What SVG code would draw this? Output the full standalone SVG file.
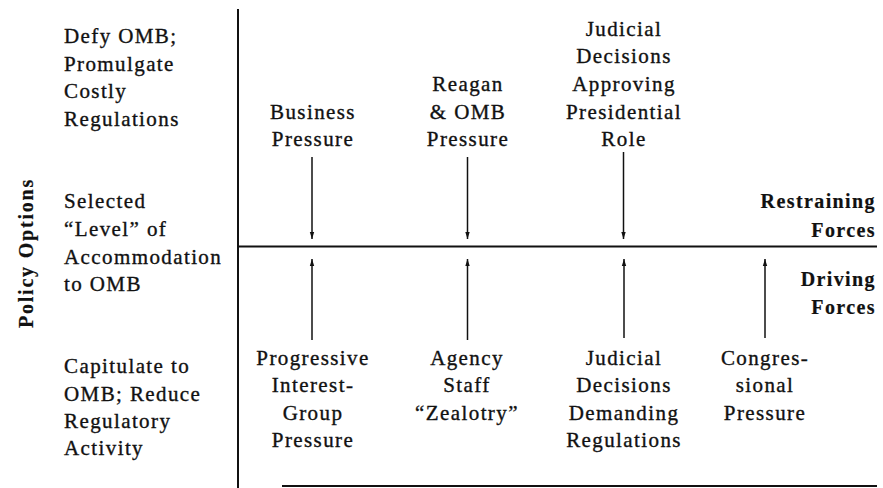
<svg xmlns="http://www.w3.org/2000/svg" width="883" height="488" viewBox="0 0 883 488">
<defs>
<marker id="ah" markerWidth="8" markerHeight="8" refX="7" refY="4" orient="auto" markerUnits="userSpaceOnUse">
<path d="M0,1.8 L7,4 L0,6.2 Z" fill="#111"/>
</marker>
<style>
text{font-family:"Liberation Serif","Times New Roman",serif;font-size:21px;fill:#111;stroke:#111;stroke-width:0.35px;letter-spacing:1.4px}
.c{text-anchor:middle}
.b{font-weight:bold;font-size:20px;stroke-width:0.2px}
.r{text-anchor:end}
.ax{stroke:#111;stroke-width:2;fill:none}
.ar{stroke:#111;stroke-width:1.5;fill:none;marker-end:url(#ah)}
</style>
</defs>
<rect width="883" height="488" fill="#fff"/>
<g id="axes">
<line class="ax" x1="238" y1="9" x2="238" y2="488"/>
<line class="ax" x1="238" y1="246.5" x2="877" y2="246.5"/>
<line class="ax" x1="282" y1="486" x2="877" y2="486"/>
</g>
<g id="axis-title">
<text class="c b" transform="translate(33,253) rotate(-90)" style="letter-spacing:1.8px">Policy Options</text>
</g>
<g id="option-defy">
<text x="64" y="43">Defy OMB;</text>
<text x="64" y="71">Promulgate</text>
<text x="64" y="98">Costly</text>
<text x="64" y="126">Regulations</text>
</g>
<g id="option-selected">
<text x="64" y="208">Selected</text>
<text x="64" y="236">“Level” of</text>
<text x="64" y="264">Accommodation</text>
<text x="64" y="291">to OMB</text>
</g>
<g id="option-capitulate">
<text x="64" y="373">Capitulate to</text>
<text x="64" y="401">OMB; Reduce</text>
<text x="64" y="428">Regulatory</text>
<text x="64" y="455">Activity</text>
</g>
<g id="business">
<text class="c" x="313" y="119">Business</text>
<text class="c" x="313" y="146">Pressure</text>
</g>
<g id="reagan">
<text class="c" x="468" y="91">Reagan</text>
<text class="c" x="468" y="119">&amp; OMB</text>
<text class="c" x="468" y="146">Pressure</text>
</g>
<g id="judicial-approving">
<text class="c" x="624" y="36">Judicial</text>
<text class="c" x="624" y="63">Decisions</text>
<text class="c" x="624" y="91">Approving</text>
<text class="c" x="624" y="119">Presidential</text>
<text class="c" x="624" y="146">Role</text>
</g>
<g id="restraining">
<text class="b r" x="876" y="208">Restraining</text>
<text class="b r" x="876" y="237">Forces</text>
</g>
<g id="driving">
<text class="b r" x="876" y="286">Driving</text>
<text class="b r" x="876" y="314">Forces</text>
</g>
<g id="progressive">
<text class="c" x="313" y="365">Progressive</text>
<text class="c" x="313" y="392">Interest-</text>
<text class="c" x="313" y="420">Group</text>
<text class="c" x="313" y="447">Pressure</text>
</g>
<g id="agency">
<text class="c" x="467" y="365">Agency</text>
<text class="c" x="467" y="392">Staff</text>
<text class="c" x="467" y="420">“Zealotry”</text>
</g>
<g id="judicial-demanding">
<text class="c" x="624" y="365">Judicial</text>
<text class="c" x="624" y="392">Decisions</text>
<text class="c" x="624" y="420">Demanding</text>
<text class="c" x="624" y="447">Regulations</text>
</g>
<g id="congressional">
<text class="c" x="765" y="365">Congres-</text>
<text class="c" x="765" y="392">sional</text>
<text class="c" x="765" y="420">Pressure</text>
</g>
<g id="connectors">
<line class="ar" x1="312" y1="157" x2="312" y2="239"/>
<line class="ar" x1="467.5" y1="157" x2="467.5" y2="239"/>
<line class="ar" x1="623.5" y1="152" x2="623.5" y2="239"/>
<line class="ar" x1="312" y1="340" x2="312" y2="259"/>
<line class="ar" x1="467.5" y1="340" x2="467.5" y2="259"/>
<line class="ar" x1="624" y1="338" x2="624" y2="259"/>
<line class="ar" x1="765" y1="338" x2="765" y2="259"/>
</g>
</svg>
